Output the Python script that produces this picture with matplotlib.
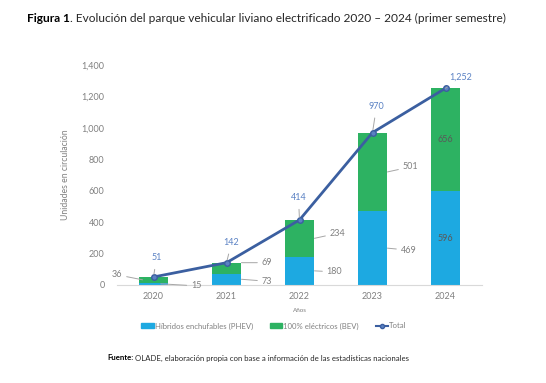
import matplotlib
matplotlib.use("Agg")
import matplotlib.pyplot as plt
from matplotlib.lines import Line2D
from matplotlib.patches import Patch
import numpy as np

plt.rcParams['font.family'] = ['Lato', 'DejaVu Sans']

years = ['2020', '2021', '2022', '2023', '2024']
phev = [15, 73, 180, 469, 596]
bev = [36, 69, 234, 501, 656]
total = [51, 142, 414, 970, 1252]
yticks = [0, 200, 400, 600, 800, 1000, 1200, 1400]

c_phev = '#1DA9E1'
c_bev = '#2DB262'
c_line = '#3B5FA0'
c_tot_lbl = '#5B82C4'
c_gray = '#808080'

fig = plt.figure(figsize=(5.46, 3.83), dpi=100)
ax = fig.add_axes([117/546, 1-285/383, (482-117)/546, (285-65)/383])

x = np.arange(len(years))
w = 0.41
ax.bar(x, phev, w, color=c_phev, zorder=2)
ax.bar(x, bev, w, bottom=phev, color=c_bev, zorder=2)
ax.plot(x, total, color=c_line, lw=2, marker='o', ms=4, mfc='#5B82C4', mec=c_line, mew=1, zorder=3)

ax.set_xlim(-0.5, 4.5)
ax.set_ylim(0, 1400)
ax.set_yticks(yticks)
ax.set_yticklabels([f'{v:,}' for v in yticks])
ax.set_xticks(x)
ax.set_xticklabels(years)
ax.tick_params(length=0, labelsize=6.5, labelcolor=c_gray)
ax.tick_params(axis='y', pad=9)
ax.tick_params(axis='x', pad=5)
for s in ['top', 'right', 'left']:
    ax.spines[s].set_visible(False)
ax.spines['bottom'].set_color('#D9D9D9')
ax.set_ylabel('Unidades en circulación', fontsize=6.2, color=c_gray, labelpad=8)
ax.set_xlabel('Años', fontsize=4.5, color=c_gray, labelpad=5)

lead = dict(arrowstyle='-', color='#A6A6A6', lw=0.7, shrinkA=1, shrinkB=0)
fs = 6.5

def seg_label(val, ymid, xa, off, ha='left'):
    ax.annotate(f'{val}', xy=(xa, ymid), xytext=off, textcoords='offset pixels',
                ha=ha, va='center', fontsize=fs, color=c_gray, arrowprops=lead, zorder=4)

seg_label(bev[0], phev[0] + bev[0] / 2, x[0] - 0.15, (-20, 5), ha='right')
seg_label(phev[0], phev[0] / 2, x[0] + 0.1, (30, -2))
for i in [1, 2, 3]:
    offs_b = {1: (20, 0), 2: (15, 5), 3: (15, 5)}[i]
    offs_p = {1: (20, -2), 2: (12, -1), 3: (13, -2)}[i]
    yb = total[i] if i == 1 else phev[i] + bev[i] / 2
    seg_label(bev[i], yb, x[i] + w / 2, offs_b)
    seg_label(phev[i], phev[i] / 2, x[i] + w / 2, offs_p)
ax.text(x[4], phev[4] + bev[4] / 2, f'{bev[4]}', ha='center', va='center', fontsize=fs, color='#595959', zorder=4)
ax.text(x[4], phev[4] / 2, f'{phev[4]}', ha='center', va='center', fontsize=fs, color='#595959', zorder=4)

tot_offs = [(3, 19), (5, 20), (-1, 22), (4, 26), (15, 11)]
for i, v in enumerate(total):
    ax.annotate(f'{v:,}', xy=(x[i], v), xytext=tot_offs[i], textcoords='offset pixels',
                ha='center', va='center', fontsize=fs, color=c_tot_lbl,
                arrowprops=dict(arrowstyle='-', color='#A6A6A6', lw=0.7, shrinkA=3, shrinkB=2), zorder=4)

handles = [Patch(color=c_phev), Patch(color=c_bev),
           Line2D([0], [0], color=c_line, lw=1.5, marker='o', ms=3, mfc=c_tot_lbl, mec=c_line)]
labels = ['Híbridos enchufables (PHEV)', '100% eléctricos (BEV)', 'Total']
fig.legend(handles, labels, loc='center', bbox_to_anchor=(274/546, 1-326/383), ncol=3,
           frameon=False, fontsize=5.6, labelcolor=c_gray, handlelength=1.6, handleheight=0.6,
           handletextpad=0.1, columnspacing=2.2)

renderer = fig.canvas.get_renderer()

def two_part(xpx, ypx, bold, rest, fsz, color):
    t1 = fig.text(xpx/546, 1-ypx/383, bold, fontsize=fsz, color='#000000', ha='left', va='center', fontweight='bold')
    bb = t1.get_window_extent(renderer)
    fig.text(bb.x1/546, 1-ypx/383, rest, fontsize=fsz, color=color, ha='left', va='center')

two_part(27, 18, 'Figura 1', '. Evolución del parque vehicular liviano electrificado 2020 – 2024 (primer semestre)', 8.6, '#262626')
two_part(107, 358, 'Fuente:', ' OLADE, elaboración propia con base a información de las estadísticas nacionales', 5.6, '#262626')

fig.savefig('out.png', dpi=100)
